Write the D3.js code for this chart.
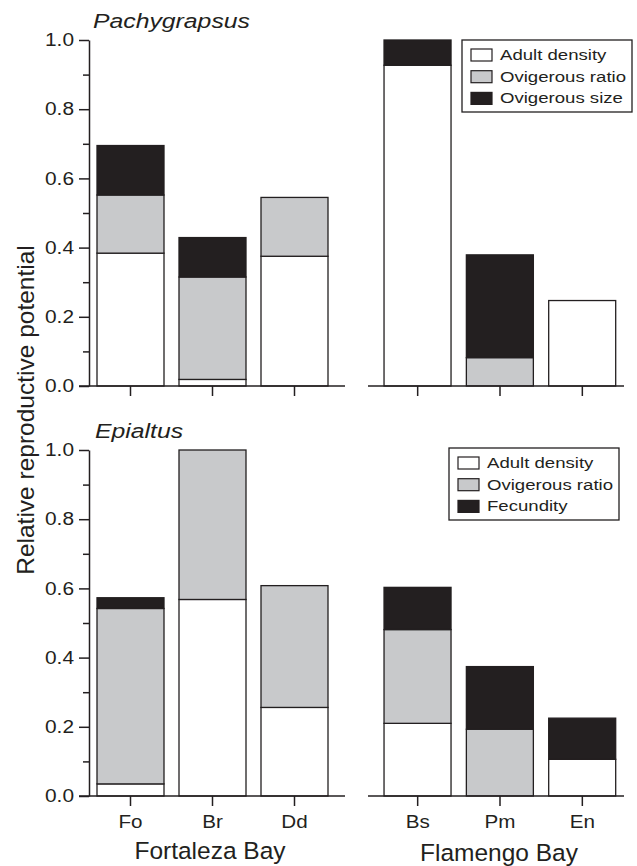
<!DOCTYPE html>
<html>
<head>
<meta charset="utf-8">
<script src="https://cdn.jsdelivr.net/npm/d3@7"></script>
<style>
  body { margin: 0; background: #fff; }
  svg text { font-family: "Liberation Sans", Arial, Helvetica, sans-serif; fill: #231f20; }
</style>
</head>
<body>
<div id="chart"></div>
<script>
// sites of each bay
const fortalezaSites = ["Fo", "Br", "Dd"];
const flamengoSites = ["Bs", "Pm", "En"];

// Pachygrapsus (Fo, Br, Dd, Bs, Pm, En)
const pachyAdult = [0.384, 0.019, 0.375, 0.927, 0.000, 0.247];
const pachyRatio = [0.168, 0.296, 0.170, 0.000, 0.082, 0.000];
const pachySize  = [0.143, 0.114, 0.000, 0.073, 0.297, 0.000];

// Epialtus
const epiAdult = [0.035, 0.568, 0.256, 0.210, 0.000, 0.106];
const epiRatio = [0.507, 0.432, 0.352, 0.271, 0.193, 0.000];
const epiFec   = [0.031, 0.000, 0.000, 0.122, 0.181, 0.119];

const pachyLegend = ["Adult density", "Ovigerous ratio", "Ovigerous size"];
const epiLegend = ["Adult density", "Ovigerous ratio", "Fecundity"];
const majorTicks = [0, 0.2, 0.4, 0.6, 0.8, 1.0];
const minorTicks = [0.1, 0.3, 0.5, 0.7, 0.9];

const W = 637, H = 866;
const ink = "#231f20";
const fills = ["#ffffff", "#c8c9cb", "#231f20"];

const svg = d3.select("#chart").append("svg").attr("width", W).attr("height", H);

const xLeft = d3.scaleBand().domain(fortalezaSites).range([89.5, 335.5]).paddingInner(15 / 82).paddingOuter(7.5 / 82);
const xRight = d3.scaleBand().domain(flamengoSites).range([376.5, 623.5]).paddingInner(15 / 82).paddingOuter(7.5 / 82);

// the lettering of the original is a bit wider than Liberation Sans, so widen it
function stretch(sel, size, sx) {
  sel.attr("font-size", size).style("font-family", "'Liberation Sans', Arial, sans-serif").attr("fill", ink)
    .each(function () {
      const t = d3.select(this);
      const x = +t.attr("x") || 0;
      t.attr("x", x / sx).attr("transform", `scale(${sx},1)`);
    });
}

function panel(opts) {
  const y = d3.scaleLinear().domain([0, 1]).range([opts.y0, opts.y0 - 346]);
  const g = svg.append("g");
  const allSites = fortalezaSites.concat(flamengoSites);
  const rows = allSites.map((s, i) => ({ site: s, a: opts.series[0][i], b: opts.series[1][i], c: opts.series[2][i] }));
  const stacked = d3.stack().keys(["a", "b", "c"])(rows);

  stacked.forEach((layer, li) => {
    g.append("g").selectAll("rect")
      .data(layer.filter(d => d[1] - d[0] > 0))
      .join("rect")
      .attr("x", d => (fortalezaSites.includes(d.data.site) ? xLeft : xRight)(d.data.site))
      .attr("width", xLeft.bandwidth())
      .attr("y", d => y(d[1]))
      .attr("height", d => y(d[0]) - y(d[1]))
      .attr("fill", fills[li])
      .attr("stroke", ink)
      .attr("stroke-width", 1.3);
  });

  // y axis
  const yMajor = g.append("g").attr("transform", "translate(89,0)")
    .call(d3.axisLeft(y).tickValues(majorTicks).tickFormat(d3.format(".1f")).tickSize(10).tickSizeOuter(0).tickPadding(5));
  const yMinor = g.append("g").attr("transform", "translate(89,0)")
    .call(d3.axisLeft(y).tickValues(minorTicks).tickFormat("").tickSize(6).tickSizeOuter(0));
  yMinor.select(".domain").remove();
  [yMajor, yMinor].forEach(a => a.selectAll("line, path").attr("stroke", ink).attr("stroke-width", 1.5));
  stretch(yMajor.selectAll("text"), 18, 1.16);

  // x axes (one per bay)
  [[xLeft, 89, 345], [xRight, 368, 624]].forEach(([sc, a0, a1]) => {
    const ax = g.append("g").attr("transform", `translate(0,${opts.y0})`)
      .call(d3.axisBottom(sc).tickSize(10).tickSizeOuter(0).tickPadding(10)
        .tickFormat(opts.labels ? d => d : ""));
    ax.select(".domain").remove();
    ax.selectAll("line").attr("stroke", ink).attr("stroke-width", 1.5);
    stretch(ax.selectAll("text"), 17.5, 1.18);
    g.append("line").attr("x1", a0 - (a0 === 89 ? 10 : 0)).attr("x2", a1)
      .attr("y1", opts.y0).attr("y2", opts.y0)
      .attr("stroke", ink).attr("stroke-width", 1.5);
  });

  // species name
  const sp = g.append("text").attr("x", opts.titleX).attr("y", opts.y0 - 358)
    .attr("font-style", "italic").text(opts.title);
  stretch(sp, 21, 1.18);

  // legend
  const lg = g.append("g").attr("transform", `translate(${opts.legend[0]},${opts.legend[1]})`);
  lg.append("rect").attr("width", 170).attr("height", 72)
    .attr("fill", "#fff").attr("stroke", ink).attr("stroke-width", 1.3);
  opts.legendLabels.forEach((lab, i) => {
    lg.append("rect").attr("x", 9).attr("y", 9 + i * 21.7).attr("width", 21).attr("height", 12)
      .attr("fill", fills[i]).attr("stroke", ink).attr("stroke-width", 1.2);
    const t = lg.append("text").attr("x", 38).attr("y", 20 + i * 21.7).text(lab);
    stretch(t, 15.5, 1.2);
  });
}

panel({ y0: 386, series: [pachyAdult, pachyRatio, pachySize], title: "Pachygrapsus", titleX: 93,
  legendLabels: pachyLegend, legend: [462, 40], labels: false });
panel({ y0: 796, series: [epiAdult, epiRatio, epiFec], title: "Epialtus", titleX: 95,
  legendLabels: epiLegend, legend: [449, 448], labels: true });

// axis titles
svg.append("text").attr("transform", "translate(34,410) rotate(-90)")
  .attr("text-anchor", "middle").attr("font-size", 24.5).text("Relative reproductive potential");
svg.append("text").attr("x", 210).attr("y", 859).attr("text-anchor", "middle")
  .attr("font-size", 24.5).text("Fortaleza Bay");
svg.append("text").attr("x", 499).attr("y", 861).attr("text-anchor", "middle")
  .attr("font-size", 24.5).text("Flamengo Bay");
</script>
</body>
</html>
